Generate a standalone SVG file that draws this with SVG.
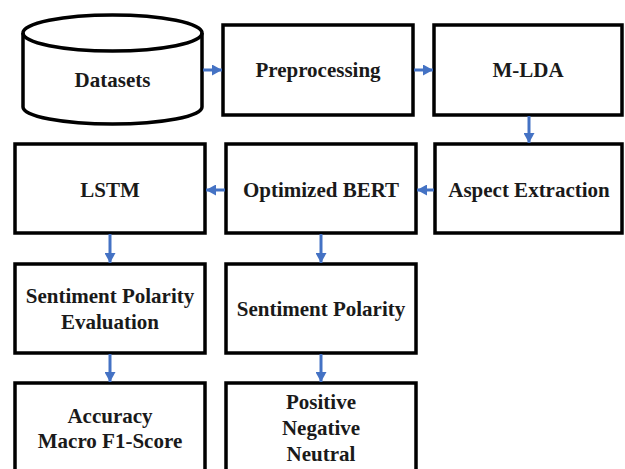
<svg xmlns="http://www.w3.org/2000/svg" width="625" height="469" viewBox="0 0 625 469">
<style>
.box{fill:#fff;stroke:#000;stroke-width:3.5}
.t{font-family:"Liberation Serif","Times New Roman",serif;font-weight:bold;font-size:21px;fill:#1a1a1a;text-anchor:middle}
.c{stroke:#4472C4;stroke-width:3;fill:none;marker-end:url(#ah)}
</style>
<defs>
<marker id="ah" markerUnits="userSpaceOnUse" markerWidth="11" markerHeight="11" refX="10" refY="5.5" orient="auto">
<path d="M0,0 L10,5.5 L0,11 Z" fill="#4472C4"/>
</marker>
</defs>
<rect width="625" height="469" fill="#fff"/>
<g id="datasets">
<path class="box" d="M23,33 A89.5,18 0 0 1 202,33 L202,107 A89.5,17 0 0 1 23,107 Z"/>
<path d="M23,33 A89.5,18 0 0 0 202,33" fill="none" stroke="#000" stroke-width="3.5"/>
<text class="t" x="112.5" y="87">Datasets</text>
</g>
<g id="preprocessing">
<rect class="box" x="223" y="25" width="190" height="90"/>
<text class="t" x="318" y="77">Preprocessing</text>
</g>
<g id="mlda">
<rect class="box" x="434" y="25" width="188" height="90"/>
<text class="t" x="528" y="77">M-LDA</text>
</g>
<g id="lstm">
<rect class="box" x="15" y="144" width="190" height="89"/>
<text class="t" x="110" y="197">LSTM</text>
</g>
<g id="bert">
<rect class="box" x="226" y="144" width="190" height="89"/>
<text class="t" x="321" y="197">Optimized BERT</text>
</g>
<g id="aspect">
<rect class="box" x="435" y="144" width="187" height="89"/>
<text class="t" x="529" y="197">Aspect Extraction</text>
</g>
<g id="spe">
<rect class="box" x="15" y="264" width="190" height="89"/>
<text class="t" x="110" y="303">Sentiment Polarity</text>
<text class="t" x="110" y="329">Evaluation</text>
</g>
<g id="sp">
<rect class="box" x="226" y="264" width="190" height="89"/>
<text class="t" x="321" y="316">Sentiment Polarity</text>
</g>
<g id="metrics">
<rect class="box" x="15" y="383" width="190" height="100"/>
<text class="t" x="110" y="423">Accuracy</text>
<text class="t" x="110" y="448">Macro F1-Score</text>
</g>
<g id="classes">
<rect class="box" x="226" y="383" width="190" height="100"/>
<text class="t" x="321" y="409">Positive</text>
<text class="t" x="321" y="435">Negative</text>
<text class="t" x="321" y="461">Neutral</text>
</g>
<g id="connectors">
<line class="c" x1="203" y1="70" x2="222" y2="70"/>
<line class="c" x1="414" y1="70" x2="433" y2="70"/>
<line class="c" x1="529" y1="116" x2="529" y2="143"/>
<line class="c" x1="434" y1="190" x2="417" y2="190"/>
<line class="c" x1="225" y1="190" x2="206" y2="190"/>
<line class="c" x1="110" y1="234" x2="110" y2="263"/>
<line class="c" x1="321" y1="234" x2="321" y2="263"/>
<line class="c" x1="110" y1="354" x2="110" y2="382"/>
<line class="c" x1="321" y1="354" x2="321" y2="382"/>
</g>
</svg>
